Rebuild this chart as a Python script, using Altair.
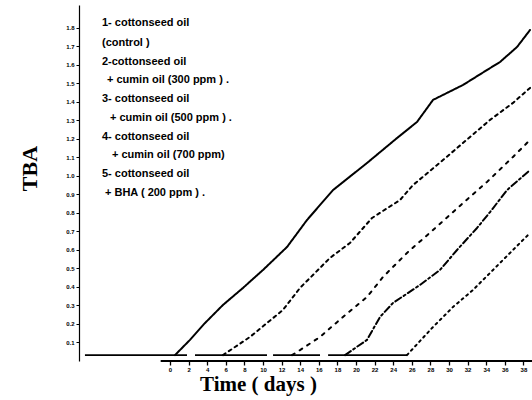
import altair as alt
import pandas as pd

# ---- data (day, TBA) ----
series_names = ["1", "2", "3", "4", "5"]

c1_day = [0.54, 2.15, 3.76, 5.70, 7.85, 10.0, 12.58, 14.73, 17.53, 21.18, 24.41, 26.56, 28.28, 29.35, 31.51, 34.09, 35.48, 37.31, 38.71]
c1_tba = [0.032, 0.114, 0.205, 0.303, 0.395, 0.492, 0.616, 0.762, 0.924, 1.070, 1.205, 1.292, 1.411, 1.438, 1.492, 1.573, 1.616, 1.697, 1.789]

c2_day = [5.70, 8.60, 12.15, 13.98, 17.20, 19.35, 21.72, 24.73, 26.13, 29.35, 32.26, 34.41, 36.88, 38.71]
c2_tba = [0.032, 0.130, 0.276, 0.395, 0.557, 0.638, 0.773, 0.870, 0.951, 1.086, 1.211, 1.303, 1.395, 1.476]

c3_day = [13.12, 13.98, 16.13, 18.60, 21.18, 22.90, 25.48, 28.28, 31.51, 34.09, 36.88, 38.71]
c3_tba = [0.032, 0.059, 0.130, 0.238, 0.346, 0.454, 0.584, 0.708, 0.854, 0.968, 1.103, 1.195]

c4_day = [18.82, 21.18, 22.58, 23.98, 26.88, 29.03, 30.86, 33.01, 34.41, 36.24, 38.71]
c4_tba = [0.032, 0.114, 0.238, 0.314, 0.411, 0.492, 0.600, 0.719, 0.805, 0.924, 1.032]

c5_day = [25.48, 28.28, 30.43, 32.58, 34.73, 36.88, 38.71]
c5_tba = [0.032, 0.184, 0.292, 0.384, 0.492, 0.600, 0.692]

# flat (induction) part of the curves along the bottom, drawn in pieces
base_seg = ["a", "a", "b", "b", "c", "c", "d", "d"]
base_day = [-9.14, 1.83, 2.69, 10.43, 11.08, 16.13, 17.0, 25.48]
base_tba = [0.032, 0.032, 0.032, 0.032, 0.032, 0.032, 0.032, 0.032]

# visible x-axis line (starts just left of day 0)
axis_from = [-1.0]
axis_to = [38.92]
axis_at = [0.0]

x_ticks = list(range(0, 39, 2))
y_ticks = [round(0.1 * i, 1) for i in range(1, 19)]

legend_lines = [
    "1- cottonseed oil",
    "(control )",
    "2-cottonseed oil",
    "+ cumin oil  (300 ppm ) .",
    "3- cottonseed oil",
    "+ cumin  oil  (500 ppm ) .",
    "4- cottonseed oil",
    "+ cumin  oil (700 ppm)",
    "5- cottonseed oil",
    "+ BHA  ( 200 ppm ) .",
]
legend_day = [-7.31, -7.31, -7.31, -6.77, -7.31, -6.45, -7.31, -6.24, -7.31, -6.99]
legend_tba = [1.827, 1.719, 1.616, 1.519, 1.416, 1.314, 1.211, 1.114, 1.011, 0.908]

# ---- tables ----
rows = []
for name, ds, vs in zip(series_names, [c1_day, c2_day, c3_day, c4_day, c5_day],
                        [c1_tba, c2_tba, c3_tba, c4_tba, c5_tba]):
    for i, (d, v) in enumerate(zip(ds, vs)):
        rows.append({"series": name, "day": d, "tba": v, "order": i})
df = pd.DataFrame(rows)
base_df = pd.DataFrame({"seg": base_seg, "day": base_day, "tba": base_tba})
axis_df = pd.DataFrame({"day": axis_from, "day2": axis_to, "tba": axis_at})
leg_df = pd.DataFrame({"text": legend_lines, "day": legend_day, "tba": legend_tba})

xscale = alt.Scale(domain=[-9.78, 38.92], nice=False, zero=False)
yscale = alt.Scale(domain=[0, 1.924], nice=False, zero=False)

xaxis = alt.Axis(values=x_ticks, tickCount=len(x_ticks), title="Time ( days )", labelFontSize=6,
                 labelFontWeight="bold",
                 labelFont="Liberation Sans", tickSize=4, tickWidth=1.3, labelPadding=1, domain=False,
                 labelOverlap=False,
                 titleFont="Liberation Serif", titleFontSize=21, titleFontWeight="bold",
                 titleX=179, titleY=29, titleAlign="center", titleBaseline="alphabetic",
                 grid=False, labelColor="black", tickColor="black",
                 titleColor="black")
yaxis = alt.Axis(values=y_ticks, tickCount=len(y_ticks), format=".1f", title="TBA", labelFontSize=6,
                 labelFontWeight="bold",
                 labelFont="Liberation Sans", tickSize=3, labelPadding=2, domainWidth=1.2,
                 labelOverlap=False,
                 titleFont="Liberation Serif", titleFontSize=22, titleFontWeight="bold",
                 titleAngle=-90, titleX=-50, titleY=163, titleAlign="center", titleBaseline="middle",
                 grid=False, labelColor="black", tickColor="black", domainColor="black",
                 titleColor="black")

lines = alt.Chart(df).mark_line(color="black", strokeWidth=2, strokeCap="round", clip=False,
                                strokeJoin="round").encode(
    x=alt.X("day:Q", scale=xscale, axis=xaxis),
    y=alt.Y("tba:Q", scale=yscale, axis=yaxis),
    detail="series:N",
    order="order:Q",
    strokeDash=alt.StrokeDash("series:N", legend=None, scale=alt.Scale(
        domain=series_names,
        range=[[1, 0], [3, 4], [3, 6], [7, 3, 2, 3], [2, 4]])),
)

base = alt.Chart(base_df).mark_line(color="black", strokeWidth=1.6).encode(
    x=alt.X("day:Q", scale=xscale),
    y=alt.Y("tba:Q", scale=yscale),
    detail="seg:N",
)

xline = alt.Chart(axis_df).mark_rule(color="black", strokeWidth=2).encode(
    x=alt.X("day:Q", scale=xscale),
    x2="day2:Q",
    y=alt.Y("tba:Q", scale=yscale),
)

labels = alt.Chart(leg_df).mark_text(align="left", baseline="middle", font="Liberation Sans",
                                     fontSize=11, fontWeight="bold", color="black").encode(
    x=alt.X("day:Q", scale=xscale),
    y=alt.Y("tba:Q", scale=yscale),
    text="text:N",
)

chart = alt.layer(lines, base, xline, labels).properties(
    width=453, height=356,
    autosize=alt.AutoSizeParams(type="none"),
    padding={"left": 79, "top": 5, "right": 0, "bottom": 39},
    background="white",
).configure_view(stroke=None)

chart.save("out.html", embed_options={"renderer": "svg", "actions": False})
